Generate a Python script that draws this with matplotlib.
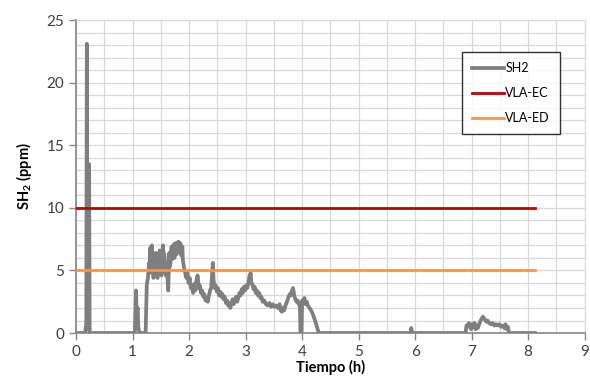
import matplotlib
matplotlib.use("Agg")
import matplotlib.pyplot as plt
from matplotlib.ticker import MultipleLocator

plt.rcParams['font.family'] = ['Lato', 'DejaVu Sans']
plt.rcParams['mathtext.fontset'] = 'custom'
plt.rcParams['mathtext.rm'] = 'Lato'
plt.rcParams['mathtext.bf'] = 'Lato:bold'

# SH2 readings over the shift (hours, ppm)
sh2_t = [0.00, 0.16, 0.18, 0.19, 0.20, 0.22, 0.23, 0.24,
         1.04, 1.06, 1.07, 1.09, 1.10, 1.12,
         1.23, 1.25, 1.27, 1.29, 1.30, 1.31, 1.32, 1.33, 1.34, 1.35, 1.36,
         1.37, 1.38, 1.39, 1.40, 1.41, 1.42, 1.43, 1.44, 1.45, 1.46, 1.47,
         1.48, 1.49, 1.50, 1.51, 1.52, 1.53, 1.54, 1.55, 1.56, 1.57, 1.58,
         1.59, 1.60, 1.61, 1.62, 1.63, 1.64, 1.65, 1.66, 1.67, 1.68, 1.69,
         1.70, 1.71, 1.72, 1.73, 1.74, 1.75, 1.76, 1.77, 1.78, 1.79, 1.80,
         1.81, 1.82, 1.83, 1.84, 1.85, 1.86, 1.87, 1.88, 1.89, 1.91, 1.93,
         1.95, 1.97, 1.99, 2.01, 2.03,
         2.05, 2.07, 2.09, 2.11, 2.13, 2.15, 2.17, 2.19, 2.21, 2.23, 2.25,
         2.27, 2.29, 2.31, 2.33, 2.35, 2.37, 2.39, 2.41, 2.42, 2.43, 2.45,
         2.47, 2.49, 2.51, 2.53, 2.55, 2.57, 2.59, 2.61, 2.63, 2.65, 2.67,
         2.69, 2.71, 2.73, 2.75, 2.77, 2.79, 2.81, 2.83, 2.85, 2.87, 2.89,
         2.91, 2.93, 2.95, 2.97, 2.99, 3.01, 3.03, 3.05, 3.07, 3.09, 3.10,
         3.12, 3.14, 3.16, 3.18, 3.20, 3.22, 3.24, 3.26, 3.28, 3.30, 3.33,
         3.36, 3.39, 3.42, 3.45, 3.48, 3.51, 3.54, 3.57, 3.60, 3.62, 3.64,
         3.66, 3.68, 3.70, 3.72, 3.74, 3.76, 3.78, 3.80, 3.82, 3.84, 3.86,
         3.88, 3.90, 3.92, 3.94, 3.96, 3.97, 3.99, 4.00, 4.02, 4.04, 4.06,
         4.08, 4.10, 4.13, 4.16, 4.19, 4.22, 4.25, 4.28, 4.30,
         5.92, 5.93, 5.95,
         6.89, 6.91, 6.93, 6.95, 6.97, 6.99, 7.01, 7.03, 7.05, 7.07, 7.09,
         7.11, 7.14, 7.17, 7.20, 7.23, 7.26, 7.28, 7.31, 7.34, 7.37, 7.40,
         7.43, 7.46, 7.49, 7.52, 7.55, 7.58, 7.60, 7.62, 7.64, 7.66, 8.12]
sh2_v = [0, 0, 0.8, 23.1, 0.5, 0.3, 13.5, 0,
         0, 3.4, 1.5, 2.0, 0.5, 0,
         0, 3.8, 4.4, 5.6, 4.8, 6.8, 5.2, 6.4, 7.0, 5.0, 5.8,
         4.4, 6.0, 4.8, 5.6, 6.4, 4.6, 5.9, 4.4, 6.2, 5.0, 6.0,
         6.6, 4.9, 5.8, 4.6, 6.0, 5.2, 7.0, 5.4, 6.3, 5.8, 4.8,
         4.6, 5.6, 5.2, 4.2, 3.4, 5.0, 6.4, 5.3, 5.6, 6.5, 6.9,
         5.9, 6.2, 6.8, 7.1, 6.0, 6.6, 7.0, 7.2, 6.3, 6.8, 7.2,
         7.3, 6.5, 6.6, 7.2, 7.1, 6.2, 6.4, 6.9, 5.8, 5.2, 4.8,
         4.4, 4.8, 4.0, 4.4, 3.6,
         3.8, 3.2, 3.9, 3.4, 4.2, 4.6, 3.6, 3.8, 3.2, 3.4, 2.9,
         3.1, 2.6, 2.8, 2.5, 3.0, 3.4, 3.6, 5.0, 5.6, 4.4, 3.6,
         3.8, 3.3, 3.6, 3.0, 3.3, 2.9, 3.1, 2.7, 2.9, 2.4, 2.6,
         2.2, 2.4, 2.0, 2.4, 2.7, 2.3, 2.6, 2.9, 2.5, 2.8, 3.2,
         3.0, 3.5, 3.2, 3.7, 3.4, 3.8, 3.6, 4.0, 4.6, 4.8, 4.0,
         3.9, 3.5, 3.7, 3.2, 3.4, 3.0, 3.2, 2.8, 2.9, 2.5, 2.6,
         2.3, 2.2, 2.4, 2.1, 2.3, 2.1, 2.2, 2.0, 2.3, 1.8, 1.7,
         2.0, 1.8, 2.1, 2.4, 2.6, 2.9, 3.1, 3.0, 3.4, 3.6, 3.0,
         2.7, 2.5, 2.6, 2.3, 2.2, 0, 0, 2.6, 2.4, 2.8, 2.3,
         2.5, 2.2, 2.0, 1.8, 1.5, 1.1, 0.7, 0.2, 0,
         0, 0.4, 0,
         0, 0.6, 0.5, 0.8, 0.6, 0.3, 0.7, 0.5, 0.8, 0.3, 0.6,
         0.4, 0.8, 1.1, 1.3, 1.1, 0.9, 1.0, 0.8, 0.7, 0.8, 0.6,
         0.7, 0.6, 0.7, 0.5, 0.6, 0.4, 0.7, 0.3, 0.5, 0, 0]

# exposure limits
limit_t = [0, 8.12]
vla_ec = [10, 10]
vla_ed = [5, 5]

fig = plt.figure(figsize=(5.9, 3.85), dpi=100)
ax = fig.add_axes([0.129, 0.135, 0.862, 0.813])

ax.plot(sh2_t, sh2_v, color='#7f7f7f', lw=2.7, label='SH2', zorder=3)
ax.plot(limit_t, vla_ec, color='#c00000', lw=2.0, label='VLA-EC', zorder=4)
ax.plot(limit_t, vla_ed, color='#f79646', lw=2.0, label='VLA-ED', zorder=4)

ax.set_xlim(0, 9)
ax.set_ylim(0, 25)
ax.xaxis.set_major_locator(MultipleLocator(1))
ax.xaxis.set_minor_locator(MultipleLocator(0.5))
ax.yaxis.set_major_locator(MultipleLocator(5))
ax.yaxis.set_minor_locator(MultipleLocator(1))
ax.grid(which='both', color='#d9d9d9', lw=0.9, zorder=0)
ax.set_axisbelow(True)
ax.tick_params(which='major', direction='out', length=5, width=1,
               color='#868686', labelsize=11, labelcolor='#404040')
ax.tick_params(which='minor', length=0)

for side in ['top', 'right']:
    ax.spines[side].set_color('#d9d9d9')
for side in ['left', 'bottom']:
    ax.spines[side].set_color('#868686')
    ax.spines[side].set_linewidth(1.2)

ax.set_xlabel('Tiempo (h)', fontsize=10.5, fontweight='bold', labelpad=1)
ax.set_ylabel(r'SH$_{\mathbf{2}}$ (ppm)', fontsize=10.5, fontweight='bold', labelpad=9)

leg = ax.legend(loc='upper left', bbox_to_anchor=(0.758, 0.898), fontsize=9,
                frameon=True, fancybox=False, edgecolor='black',
                handlelength=2.6, handletextpad=0.1, labelspacing=1.05,
                borderpad=0.8, borderaxespad=0)
leg.get_frame().set_linewidth(1.0)

fig.savefig('out.png', dpi=100)
